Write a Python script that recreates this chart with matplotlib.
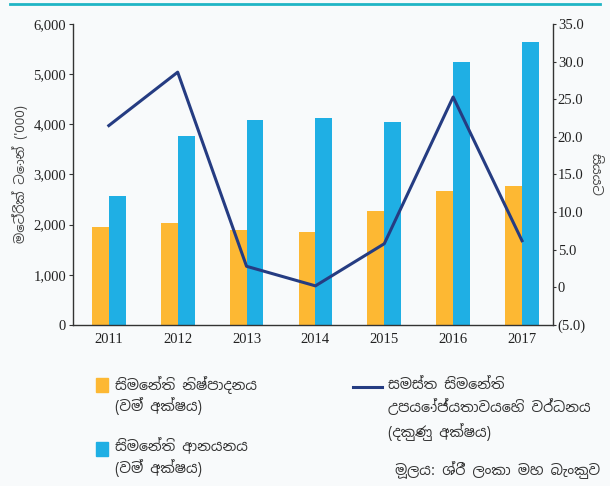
import numpy as np
import matplotlib
matplotlib.use("Agg")
import matplotlib.pyplot as plt
from matplotlib import font_manager
from matplotlib.ft2font import FT2Font
from matplotlib.patches import Rectangle
from matplotlib.lines import Line2D


# find an installed font that can draw Sinhala, prefer a dedicated one
def sinhala_font():
    found = []
    for f in font_manager.fontManager.ttflist:
        try:
            if 0x0DC3 in FT2Font(f.fname).get_charmap():
                found.append(f.name)
        except Exception:
            pass
    for n in found:
        if "Sinhala" in n and "UI" not in n:
            return n
    return found[0] if found else None


sin = sinhala_font()
fam = [sin, "DejaVu Sans"] if sin else ["DejaVu Sans"]

years = ["2011", "2012", "2013", "2014", "2015", "2016", "2017"]
production = [1960, 2030, 1895, 1860, 2280, 2665, 2780]
imports = [2570, 3770, 4085, 4120, 4045, 5240, 5635]
growth = [21.5, 28.6, 2.8, 0.2, 5.8, 25.3, 6.2]

left_ticks = [0, 1000, 2000, 3000, 4000, 5000, 6000]
left_labels = ["0", "1,000", "2,000", "3,000", "4,000", "5,000", "6,000"]
right_ticks = [-5, 0, 5, 10, 15, 20, 25, 30, 35]
right_labels = ["(5.0)", "0", "5.0", "10.0", "15.0", "20.0", "25.0", "30.0", "35.0"]

orange = "#FDB833"
blue = "#1FAFE4"
navy = "#253C82"
bg = "#F8FAFB"
serif = "Liberation Serif"

fig = plt.figure(figsize=(6.1, 4.86), dpi=100, facecolor=bg)
ax = fig.add_axes([73 / 610, 0.3313, 480 / 610, 0.6193], facecolor=bg)
ax2 = ax.twinx()

x = np.arange(len(years))
w = 0.245
ax.bar(x - w / 2, production, w, color=orange, zorder=2)
ax.bar(x + w / 2, imports, w, color=blue, zorder=2)
ax2.plot(x, growth, color=navy, lw=2.2, zorder=3)

ax.set_xlim(-0.52, 6.45)
ax.set_ylim(0, 6000)
ax2.set_ylim(-5, 35)
ax.set_xticks(x)
ax.set_xticklabels(years, fontfamily=serif, fontsize=10.5, color="#222222")
ax.tick_params(axis="x", length=0, pad=6)
ax.set_yticks(left_ticks)
ax.set_yticklabels(left_labels, fontfamily=serif, fontsize=10.5, color="#222222")
ax.tick_params(axis="y", length=3, width=0.8, pad=2, color="#333333")
ax2.set_yticks(right_ticks)
ax2.set_yticklabels(right_labels, fontfamily=serif, fontsize=10.5, color="#222222")
ax2.tick_params(axis="y", length=2.5, width=0.8, pad=1, color="#333333")

for a in (ax, ax2):
    a.spines["top"].set_visible(False)
    for s in ("left", "right", "bottom"):
        a.spines[s].set_color("#333333")
        a.spines[s].set_linewidth(1.0)
ax.spines["right"].set_visible(False)
ax2.spines["left"].set_visible(False)
ax2.spines["bottom"].set_visible(False)

# no shaping in matplotlib, so the zero width joiners are left out
ax.set_ylabel("මෙට්රික් ටොන් ('000)", family=fam, fontsize=9.5, color="#444444", labelpad=4)
rl = ax2.set_ylabel("සියයට", family=fam, fontsize=9.5, color="#444444", rotation=270)
rl.set_va("center")
rl.set_ha("center")
rl.set_rotation_mode("default")
ax2.yaxis.set_label_coords(1.0875, 0.5)

# teal rule across the top
fig.add_artist(Line2D([10 / 610, 600 / 610], [1 - 4 / 486, 1 - 4 / 486], color="#20B5C5", lw=2))


def fx(px):
    return px / 610


def fy(py):
    return 1 - py / 486


# legend drawn by hand
fig.add_artist(Rectangle((fx(96), fy(392)), fx(12), 14 / 486, color=orange))
fig.add_artist(Rectangle((fx(96), fy(456)), fx(12), 14 / 486, color=blue))
fig.add_artist(Line2D([fx(353), fx(382)], [fy(387), fy(387)], color=navy, lw=2.2))

tx = dict(family=fam, fontsize=10.3, color="#333333", va="center", ha="left")
fig.text(fx(115), fy(385), "සිමෙන්ති නිෂ්පාදනය", **tx)
fig.text(fx(115), fy(406), "(වම් අක්ෂය)", **tx)
fig.text(fx(115), fy(447), "සිමෙන්ති ආනයනය", **tx)
fig.text(fx(115), fy(468), "(වම් අක්ෂය)", **tx)
fig.text(fx(388), fy(385), "සමස්ත සිමෙන්ති", **tx)
fig.text(fx(388), fy(408), "උපයෝජ්යතාවයෙහි වර්ධනය", **tx)
fig.text(fx(388), fy(432), "(දකුණු අක්ෂය)", **tx)
tx["ha"] = "right"
fig.text(fx(600), fy(470), "මූලය: ශ්රී ලංකා මහ බැංකුව", **tx)

fig.savefig("out.png", dpi=100, facecolor=bg)
